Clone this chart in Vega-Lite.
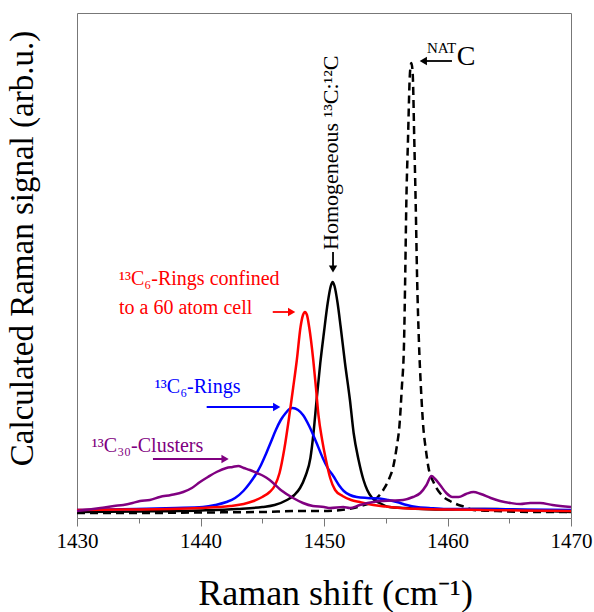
{
  "$schema": "https://vega.github.io/schema/vega-lite/v6.json",
  "width": 494,
  "height": 505,
  "autosize": "none",
  "padding": {"left": 77, "top": 13, "right": 23, "bottom": 94},
  "background": "white",
  "config": {
    "view": {"stroke": "#777777", "strokeWidth": 1},
    "font": "Liberation Serif, serif",
    "text": {"font": "Liberation Serif, serif"}
  },
  "datasets": {
    "spectra": [
      {"series": "nat", "x": 1430, "y": 5}, {"series": "nat", "x": 1435, "y": 5}, {"series": "nat", "x": 1440, "y": 5.5}, {"series": "nat", "x": 1445, "y": 6}, {"series": "nat", "x": 1448, "y": 7}, {"series": "nat", "x": 1450, "y": 7}, {"series": "nat", "x": 1452, "y": 9}, {"series": "nat", "x": 1453, "y": 12}, {"series": "nat", "x": 1454, "y": 17}, {"series": "nat", "x": 1454.8, "y": 28}, {"series": "nat", "x": 1455.3, "y": 40}, {"series": "nat", "x": 1455.6, "y": 51}, {"series": "nat", "x": 1455.9, "y": 72}, {"series": "nat", "x": 1456.1, "y": 91}, {"series": "nat", "x": 1456.3, "y": 130}, {"series": "nat", "x": 1456.48, "y": 175}, {"series": "nat", "x": 1456.58, "y": 245}, {"series": "nat", "x": 1456.66, "y": 311}, {"series": "nat", "x": 1456.8, "y": 378}, {"series": "nat", "x": 1456.96, "y": 445}, {"series": "nat", "x": 1457.07, "y": 455}, {"series": "nat", "x": 1457.18, "y": 445}, {"series": "nat", "x": 1457.31, "y": 378}, {"series": "nat", "x": 1457.43, "y": 311}, {"series": "nat", "x": 1457.53, "y": 245}, {"series": "nat", "x": 1457.69, "y": 175}, {"series": "nat", "x": 1457.85, "y": 130}, {"series": "nat", "x": 1458.04, "y": 91}, {"series": "nat", "x": 1458.25, "y": 68}, {"series": "nat", "x": 1458.45, "y": 51}, {"series": "nat", "x": 1458.9, "y": 35}, {"series": "nat", "x": 1459.6, "y": 22}, {"series": "nat", "x": 1460.2, "y": 17}, {"series": "nat", "x": 1460.7, "y": 14}, {"series": "nat", "x": 1461.4, "y": 11}, {"series": "nat", "x": 1462.1, "y": 8}, {"series": "nat", "x": 1464, "y": 7}, {"series": "nat", "x": 1467, "y": 6}, {"series": "nat", "x": 1470, "y": 6},

      {"series": "homo", "x": 1430, "y": 6}, {"series": "homo", "x": 1435, "y": 6.5}, {"series": "homo", "x": 1440, "y": 7.5}, {"series": "homo", "x": 1443, "y": 9}, {"series": "homo", "x": 1445, "y": 11}, {"series": "homo", "x": 1446, "y": 13}, {"series": "homo", "x": 1447, "y": 18}, {"series": "homo", "x": 1447.6, "y": 23}, {"series": "homo", "x": 1448.06, "y": 30}, {"series": "homo", "x": 1448.5, "y": 42}, {"series": "homo", "x": 1448.9, "y": 60}, {"series": "homo", "x": 1449.15, "y": 85}, {"series": "homo", "x": 1449.4, "y": 118}, {"series": "homo", "x": 1449.7, "y": 155}, {"series": "homo", "x": 1450.0, "y": 186}, {"series": "homo", "x": 1450.3, "y": 215}, {"series": "homo", "x": 1450.55, "y": 232}, {"series": "homo", "x": 1450.7, "y": 236}, {"series": "homo", "x": 1450.85, "y": 232}, {"series": "homo", "x": 1451.1, "y": 215}, {"series": "homo", "x": 1451.35, "y": 191}, {"series": "homo", "x": 1451.7, "y": 155}, {"series": "homo", "x": 1452.1, "y": 118}, {"series": "homo", "x": 1452.4, "y": 85}, {"series": "homo", "x": 1452.8, "y": 58}, {"series": "homo", "x": 1453.2, "y": 38}, {"series": "homo", "x": 1453.5, "y": 28}, {"series": "homo", "x": 1453.9, "y": 20}, {"series": "homo", "x": 1454.5, "y": 15}, {"series": "homo", "x": 1455.3, "y": 11}, {"series": "homo", "x": 1456.5, "y": 10}, {"series": "homo", "x": 1458, "y": 9}, {"series": "homo", "x": 1460, "y": 8.5}, {"series": "homo", "x": 1462, "y": 9}, {"series": "homo", "x": 1464, "y": 9}, {"series": "homo", "x": 1466, "y": 8}, {"series": "homo", "x": 1468, "y": 7}, {"series": "homo", "x": 1470, "y": 6},

      {"series": "rings", "x": 1430, "y": 8}, {"series": "rings", "x": 1434.8, "y": 9}, {"series": "rings", "x": 1438, "y": 10}, {"series": "rings", "x": 1440.2, "y": 11}, {"series": "rings", "x": 1441.2, "y": 13}, {"series": "rings", "x": 1442.1, "y": 16}, {"series": "rings", "x": 1442.8, "y": 20}, {"series": "rings", "x": 1443.47, "y": 27}, {"series": "rings", "x": 1444.0, "y": 35}, {"series": "rings", "x": 1444.5, "y": 44}, {"series": "rings", "x": 1444.9, "y": 53}, {"series": "rings", "x": 1445.3, "y": 64}, {"series": "rings", "x": 1445.7, "y": 76}, {"series": "rings", "x": 1446.1, "y": 88}, {"series": "rings", "x": 1446.5, "y": 98}, {"series": "rings", "x": 1446.9, "y": 105}, {"series": "rings", "x": 1447.2, "y": 109}, {"series": "rings", "x": 1447.46, "y": 110}, {"series": "rings", "x": 1447.9, "y": 108}, {"series": "rings", "x": 1448.3, "y": 103}, {"series": "rings", "x": 1448.8, "y": 92}, {"series": "rings", "x": 1449.4, "y": 75}, {"series": "rings", "x": 1449.9, "y": 60}, {"series": "rings", "x": 1450.3, "y": 50}, {"series": "rings", "x": 1450.75, "y": 42}, {"series": "rings", "x": 1451.2, "y": 33}, {"series": "rings", "x": 1451.6, "y": 27}, {"series": "rings", "x": 1452.1, "y": 23}, {"series": "rings", "x": 1452.65, "y": 21}, {"series": "rings", "x": 1453.5, "y": 20}, {"series": "rings", "x": 1454.5, "y": 19.5}, {"series": "rings", "x": 1455.2, "y": 18}, {"series": "rings", "x": 1455.9, "y": 16}, {"series": "rings", "x": 1456.7, "y": 13}, {"series": "rings", "x": 1457.5, "y": 11}, {"series": "rings", "x": 1458.5, "y": 10}, {"series": "rings", "x": 1459.9, "y": 9}, {"series": "rings", "x": 1463, "y": 9}, {"series": "rings", "x": 1466, "y": 8.5}, {"series": "rings", "x": 1470, "y": 8},

      {"series": "confined", "x": 1430, "y": 8}, {"series": "confined", "x": 1434, "y": 8.5}, {"series": "confined", "x": 1437.5, "y": 9}, {"series": "confined", "x": 1440, "y": 10}, {"series": "confined", "x": 1442.4, "y": 12}, {"series": "confined", "x": 1443.5, "y": 14}, {"series": "confined", "x": 1444.3, "y": 17}, {"series": "confined", "x": 1445, "y": 21}, {"series": "confined", "x": 1445.6, "y": 26}, {"series": "confined", "x": 1446.0, "y": 32}, {"series": "confined", "x": 1446.4, "y": 45}, {"series": "confined", "x": 1446.8, "y": 70}, {"series": "confined", "x": 1447.2, "y": 103}, {"series": "confined", "x": 1447.5, "y": 130}, {"series": "confined", "x": 1447.8, "y": 158}, {"series": "confined", "x": 1448.1, "y": 191}, {"series": "confined", "x": 1448.3, "y": 203}, {"series": "confined", "x": 1448.46, "y": 206}, {"series": "confined", "x": 1448.62, "y": 203}, {"series": "confined", "x": 1448.8, "y": 191}, {"series": "confined", "x": 1449.13, "y": 158}, {"series": "confined", "x": 1449.35, "y": 130}, {"series": "confined", "x": 1449.55, "y": 103}, {"series": "confined", "x": 1449.85, "y": 78}, {"series": "confined", "x": 1450.16, "y": 58}, {"series": "confined", "x": 1450.5, "y": 40}, {"series": "confined", "x": 1450.9, "y": 28}, {"series": "confined", "x": 1451.5, "y": 22}, {"series": "confined", "x": 1452.2, "y": 18}, {"series": "confined", "x": 1452.9, "y": 16}, {"series": "confined", "x": 1454, "y": 13}, {"series": "confined", "x": 1455, "y": 11.5}, {"series": "confined", "x": 1456.15, "y": 10}, {"series": "confined", "x": 1458, "y": 9}, {"series": "confined", "x": 1460, "y": 8.5}, {"series": "confined", "x": 1463, "y": 8}, {"series": "confined", "x": 1466, "y": 7.5}, {"series": "confined", "x": 1470, "y": 7},

      {"series": "clusters", "x": 1430, "y": 7}, {"series": "clusters", "x": 1431, "y": 8.5}, {"series": "clusters", "x": 1431.9, "y": 10}, {"series": "clusters", "x": 1433, "y": 12}, {"series": "clusters", "x": 1433.75, "y": 13}, {"series": "clusters", "x": 1434.5, "y": 15}, {"series": "clusters", "x": 1435.1, "y": 17}, {"series": "clusters", "x": 1435.9, "y": 18}, {"series": "clusters", "x": 1436.7, "y": 21}, {"series": "clusters", "x": 1437.6, "y": 23}, {"series": "clusters", "x": 1438.6, "y": 26}, {"series": "clusters", "x": 1439.3, "y": 30}, {"series": "clusters", "x": 1439.96, "y": 36}, {"series": "clusters", "x": 1440.6, "y": 41}, {"series": "clusters", "x": 1441.3, "y": 46}, {"series": "clusters", "x": 1442.1, "y": 50}, {"series": "clusters", "x": 1442.6, "y": 51}, {"series": "clusters", "x": 1443.06, "y": 52}, {"series": "clusters", "x": 1443.5, "y": 50}, {"series": "clusters", "x": 1444.0, "y": 48}, {"series": "clusters", "x": 1444.55, "y": 45}, {"series": "clusters", "x": 1445.1, "y": 42}, {"series": "clusters", "x": 1445.6, "y": 38}, {"series": "clusters", "x": 1446.5, "y": 28}, {"series": "clusters", "x": 1447.5, "y": 20}, {"series": "clusters", "x": 1448.3, "y": 15}, {"series": "clusters", "x": 1449.1, "y": 12}, {"series": "clusters", "x": 1450.0, "y": 11}, {"series": "clusters", "x": 1450.5, "y": 10}, {"series": "clusters", "x": 1451.56, "y": 11}, {"series": "clusters", "x": 1452.1, "y": 10}, {"series": "clusters", "x": 1452.9, "y": 13}, {"series": "clusters", "x": 1453.2, "y": 14}, {"series": "clusters", "x": 1454.0, "y": 16}, {"series": "clusters", "x": 1454.5, "y": 17}, {"series": "clusters", "x": 1455.5, "y": 17.5}, {"series": "clusters", "x": 1456.4, "y": 18}, {"series": "clusters", "x": 1457.2, "y": 21}, {"series": "clusters", "x": 1457.8, "y": 25}, {"series": "clusters", "x": 1458.3, "y": 33}, {"series": "clusters", "x": 1458.7, "y": 42}, {"series": "clusters", "x": 1459.0, "y": 39}, {"series": "clusters", "x": 1459.4, "y": 33}, {"series": "clusters", "x": 1459.9, "y": 25}, {"series": "clusters", "x": 1460.4, "y": 21}, {"series": "clusters", "x": 1460.9, "y": 21}, {"series": "clusters", "x": 1461.5, "y": 24}, {"series": "clusters", "x": 1462.1, "y": 26}, {"series": "clusters", "x": 1462.7, "y": 24}, {"series": "clusters", "x": 1463.5, "y": 20}, {"series": "clusters", "x": 1464.25, "y": 17}, {"series": "clusters", "x": 1465.1, "y": 15}, {"series": "clusters", "x": 1465.9, "y": 14}, {"series": "clusters", "x": 1466.7, "y": 15}, {"series": "clusters", "x": 1467.5, "y": 15}, {"series": "clusters", "x": 1468.5, "y": 13}, {"series": "clusters", "x": 1470, "y": 11}
    ],
    "arrows": [
      {"series": "confined", "dir": "right", "x": 1445.85, "x2": 1447.38, "y": 206, "y2": 206},
      {"series": "rings", "dir": "right", "x": 1440.5, "x2": 1446.17, "y": 111, "y2": 111},
      {"series": "clusters", "dir": "right", "x": 1436.15, "x2": 1441.99, "y": 59, "y2": 59},
      {"series": "homo", "dir": "down", "x": 1450.73, "x2": 1450.73, "y": 266, "y2": 249},
      {"series": "nat", "dir": "left", "x": 1460.36, "x2": 1458.04, "y": 457, "y2": 457}
    ],
    "labels": [
      {"series": "confined", "kind": "main", "x": 1433.4, "y": 233, "label": "¹³C₆-Rings confined"},
      {"series": "confined", "kind": "main", "x": 1433.4, "y": 204, "label": "to a 60 atom cell"},
      {"series": "rings", "kind": "main", "x": 1436.3, "y": 125, "label": "¹³C₆-Rings"},
      {"series": "clusters", "kind": "main", "x": 1431.2, "y": 66, "label": "¹³C₃₀-Clusters"},
      {"series": "homo", "kind": "vertical", "x": 1451.1, "y": 268, "label": "Homogeneous ¹³C:¹²C"},
      {"series": "nat", "kind": "sup", "x": 1460.7, "y": 465, "label": "NAT"},
      {"series": "nat", "kind": "big", "x": 1460.74, "y": 453, "label": "C"}
    ]
  },
  "encoding": {
    "x": {
      "field": "x", "type": "quantitative",
      "scale": {"domain": [1430, 1470], "nice": false, "zero": false},
      "axis": {
        "values": [1430, 1435, 1440, 1445, 1450, 1455, 1460, 1465, 1470],
        "labelExpr": "datum.value % 10 === 0 ? datum.label : ''",
        "format": "d",
        "grid": false, "domain": false,
        "tickColor": "#777777", "tickWidth": 1,
        "tickSize": {"condition": {"test": "datum.value % 10 === 0", "value": 8}, "value": 5},
        "labelFont": "Liberation Serif, serif", "labelFontSize": 21, "labelColor": "black",
        "labelPadding": 4, "labelFlush": false, "labelOverlap": false,
        "title": "Raman shift (cm⁻¹)",
        "titleFont": "Liberation Serif, serif", "titleFontSize": 36, "titleFontWeight": "normal",
        "titleColor": "black", "titleX": 258, "titleY": 86,
        "titleBaseline": "alphabetic", "titleAlign": "center"
      }
    },
    "y": {
      "field": "y", "type": "quantitative",
      "scale": {"domain": [0, 505], "nice": false},
      "axis": {
        "labels": false, "ticks": false, "domain": false, "grid": false,
        "title": "Calculated Raman signal (arb.u.)",
        "titleFont": "Liberation Serif, serif", "titleFontSize": 33, "titleFontWeight": "normal",
        "titleColor": "black", "titleAngle": 270, "titleX": -45, "titleY": 235,
        "titleBaseline": "alphabetic", "titleAlign": "center"
      }
    },
    "color": {
      "field": "series", "type": "nominal",
      "scale": {"domain": ["nat", "homo", "confined", "rings", "clusters"], "range": ["#000000", "#000000", "#ff0000", "#0000ff", "#800080"]},
      "legend": null
    }
  },
  "layer": [
    {"data": {"name": "spectra"}, "transform": [{"filter": "datum.series === 'nat'"}], "mark": {"type": "line", "strokeWidth": 2.5, "strokeDash": [8, 5], "interpolate": "monotone"}},
    {"data": {"name": "spectra"}, "transform": [{"filter": "datum.series === 'homo'"}], "mark": {"type": "line", "strokeWidth": 2.5, "interpolate": "monotone"}},
    {"data": {"name": "spectra"}, "transform": [{"filter": "datum.series === 'rings'"}], "mark": {"type": "line", "strokeWidth": 2.5, "interpolate": "monotone"}},
    {"data": {"name": "spectra"}, "transform": [{"filter": "datum.series === 'confined'"}], "mark": {"type": "line", "strokeWidth": 2.5, "interpolate": "monotone"}},
    {"data": {"name": "spectra"}, "transform": [{"filter": "datum.series === 'clusters'"}], "mark": {"type": "line", "strokeWidth": 2.5, "interpolate": "monotone"}},
    {"data": {"name": "arrows"}, "mark": {"type": "rule", "strokeWidth": 1.8},
     "encoding": {"x2": {"field": "x2"}, "y2": {"field": "y2"}}},
    {"data": {"name": "arrows"}, "transform": [{"filter": "datum.dir === 'right'"}],
     "mark": {"type": "point", "shape": "triangle-right", "filled": true, "size": 70, "opacity": 1},
     "encoding": {"x": {"field": "x2", "type": "quantitative"}, "y": {"field": "y2", "type": "quantitative"}}},
    {"data": {"name": "arrows"}, "transform": [{"filter": "datum.dir === 'left'"}],
     "mark": {"type": "point", "shape": "triangle-left", "filled": true, "size": 70, "opacity": 1},
     "encoding": {"x": {"field": "x2", "type": "quantitative"}, "y": {"field": "y2", "type": "quantitative"}}},
    {"data": {"name": "arrows"}, "transform": [{"filter": "datum.dir === 'down'"}],
     "mark": {"type": "point", "shape": "triangle-down", "filled": true, "size": 70, "opacity": 1},
     "encoding": {"x": {"field": "x2", "type": "quantitative"}, "y": {"field": "y2", "type": "quantitative"}}},
    {"data": {"name": "labels"}, "transform": [{"filter": "datum.kind === 'main'"}],
     "mark": {"type": "text", "align": "left", "baseline": "alphabetic", "fontSize": 20, "font": "Liberation Serif, serif"},
     "encoding": {"text": {"field": "label"}}},
    {"data": {"name": "labels"}, "transform": [{"filter": "datum.kind === 'vertical'"}],
     "mark": {"type": "text", "align": "left", "baseline": "alphabetic", "angle": 270, "fontSize": 22, "font": "Liberation Serif, serif"},
     "encoding": {"text": {"field": "label"}}},
    {"data": {"name": "labels"}, "transform": [{"filter": "datum.kind === 'sup'"}],
     "mark": {"type": "text", "align": "right", "baseline": "alphabetic", "fontSize": 15, "font": "Liberation Serif, serif"},
     "encoding": {"text": {"field": "label"}}},
    {"data": {"name": "labels"}, "transform": [{"filter": "datum.kind === 'big'"}],
     "mark": {"type": "text", "align": "left", "baseline": "alphabetic", "fontSize": 28, "font": "Liberation Serif, serif"},
     "encoding": {"text": {"field": "label"}}}
  ]
}
